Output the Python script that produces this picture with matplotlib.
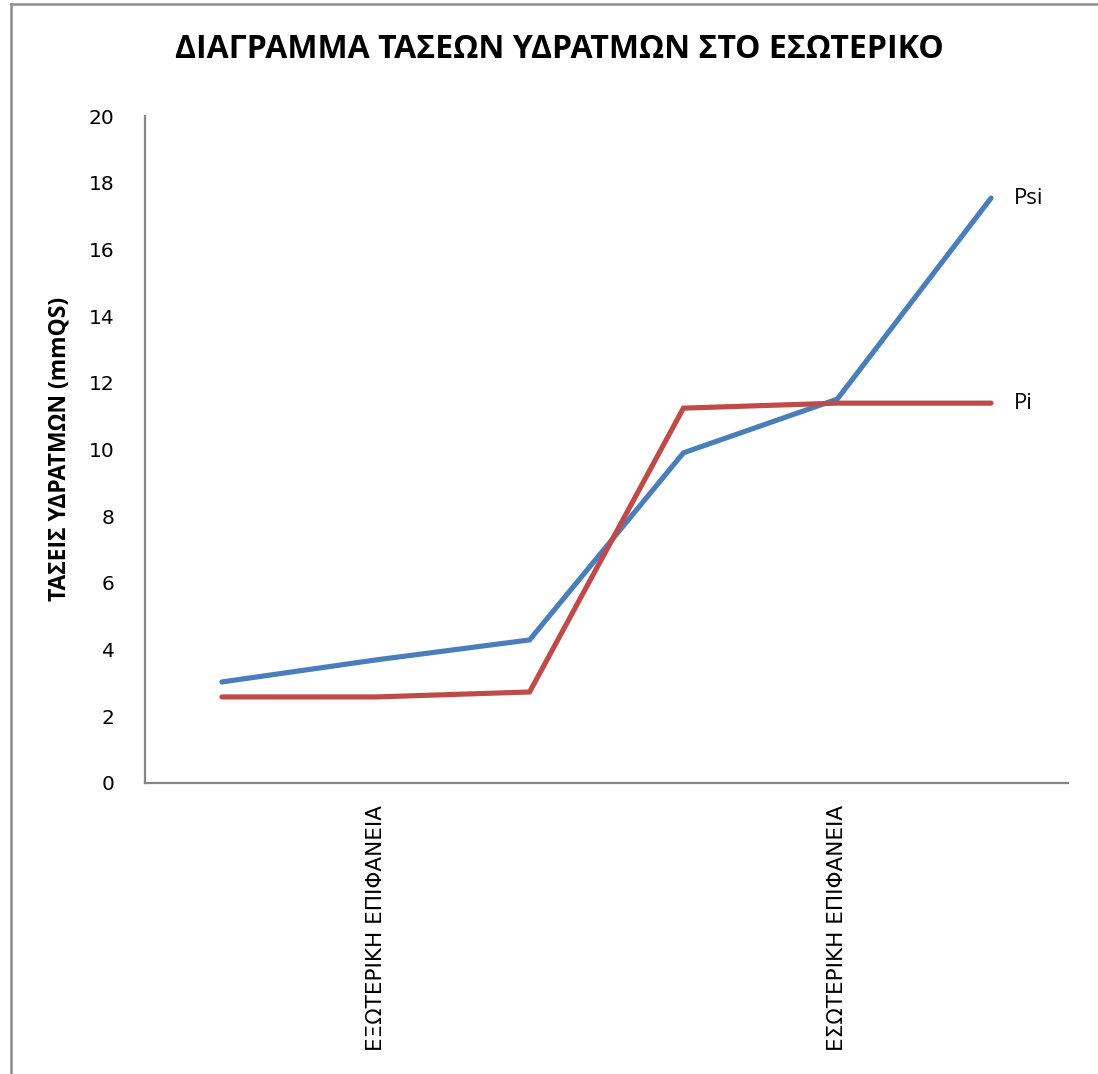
import matplotlib
matplotlib.use("Agg")
import matplotlib.pyplot as plt
from matplotlib.lines import Line2D

# Positions through the wall and their labels (only the two surfaces are named)
categories = ["", "ΕΞΩΤΕΡΙΚΗ ΕΠΙΦΑΝΕΙΑ", "", "", "ΕΣΩΤΕΡΙΚΗ ΕΠΙΦΑΝΕΙΑ", ""]

# Vapour pressures (mmQS)
psi_values = [3.03, 3.69, 4.29, 9.90, 11.51, 17.54]
pi_values = [2.58, 2.58, 2.73, 11.24, 11.39, 11.39]

series_names = ["Psi", "Pi"]
yticks = [0, 2, 4, 6, 8, 10, 12, 14, 16, 18, 20]

title = "ΔΙΑΓΡΑΜΜΑ ΤΑΣΕΩΝ ΥΔΡΑΤΜΩΝ ΣΤΟ ΕΣΩΤΕΡΙΚΟ"
ylabel = "ΤΑΣΕΙΣ ΥΔΡΑΤΜΩΝ (mmQS)"

W, H = 1098, 1074
fig = plt.figure(figsize=(W / 100, H / 100), dpi=100)
fig.patch.set_facecolor("white")

ax = fig.add_axes([145 / W, 1 - 783 / H, (1068 - 145) / W, (783 - 116) / H])

x = list(range(len(categories)))
blue = "#4A7EBB"
red = "#BE4B48"
ax.plot(x, psi_values, color=blue, lw=3.7, solid_capstyle="round", solid_joinstyle="miter")
ax.plot(x, pi_values, color=red, lw=3.7, solid_capstyle="round", solid_joinstyle="miter")

ax.set_xlim(-0.5, len(categories) - 0.5)
ax.set_ylim(0, 20)
ax.set_yticks(yticks)
ax.set_yticklabels([str(v) for v in yticks], fontsize=14.5, family="DejaVu Sans")
ax.set_xticks(x)
ax.set_xticklabels(categories, rotation=90, fontsize=15.5, family="DejaVu Sans",
                   va="top", ha="center")
ax.tick_params(axis="y", length=0, pad=22)
ax.tick_params(axis="x", length=0, pad=16)

for side in ("top", "right"):
    ax.spines[side].set_visible(False)
for side in ("left", "bottom"):
    ax.spines[side].set_color("#868686")
    ax.spines[side].set_linewidth(1.6)

# Series names at the end of each line
for name, vals in zip(series_names, [psi_values, pi_values]):
    ax.annotate(name, xy=(x[-1], vals[-1]), xytext=(16.5, 0), textcoords="offset points",
                va="center", ha="left", fontsize=16, family="Open Sans")

fig.text(559 / W, 1 - 49 / H, title, ha="center", va="center",
         fontsize=23, fontweight="bold", family="Open Sans")
fig.text(60 / W, 1 - 449 / H, ylabel, ha="center", va="center", rotation=90,
         fontsize=16.5, fontweight="bold", family="Open Sans")

# Chart area frame
fig.add_artist(Line2D([11 / W, 11 / W], [0, 1 - 4 / H], color="#8c8c8c", lw=1.8,
                      transform=fig.transFigure))
fig.add_artist(Line2D([11 / W, 1], [1 - 4 / H, 1 - 4 / H], color="#8c8c8c", lw=1.8,
                      transform=fig.transFigure))

fig.savefig("out.png", dpi=100)
